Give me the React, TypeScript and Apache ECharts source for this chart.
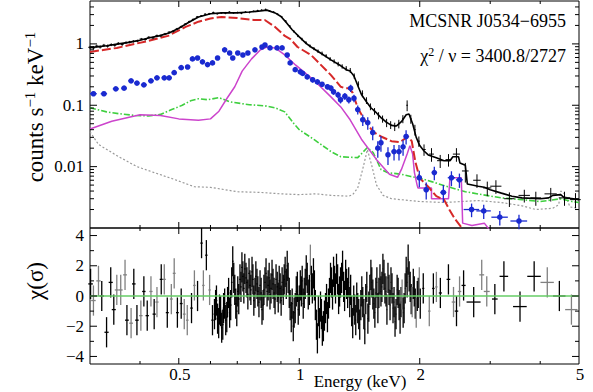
import React, { useEffect, useRef } from 'react';
import * as echarts from 'echarts';

const FONT = "'Liberation Serif', 'Times New Roman', serif";
const FAMILY = 'Liberation Serif';

// ---- model curves: [energy keV, counts s^-1 keV^-1]
const totalModel: number[][] = [
  [0.3, 0.87], [0.33, 0.93], [0.354, 1.0], [0.375, 1.06], [0.4, 1.15], [0.42, 1.25], [0.446, 1.35],
  [0.473, 1.5], [0.5, 1.8], [0.53, 2.25], [0.56, 2.75], [0.6, 3.1], [0.64, 3.2], [0.7, 3.2], [0.75, 3.3],
  [0.8, 3.45], [0.83, 3.55], [0.87, 3.2], [0.9, 2.8], [0.93, 2.2], [0.96, 1.7], [1.0, 1.3], [1.04, 1.02],
  [1.07, 0.89], [1.13, 0.71], [1.2, 0.55], [1.27, 0.44], [1.31, 0.38], [1.34, 0.36], [1.37, 0.3],
  [1.4, 0.21], [1.43, 0.15], [1.47, 0.115], [1.51, 0.091], [1.56, 0.075], [1.6, 0.063], [1.65, 0.053],
  [1.7, 0.047], [1.75, 0.046], [1.8, 0.054], [1.85, 0.07], [1.88, 0.072], [1.92, 0.05], [1.96, 0.03],
  [2.0, 0.022], [2.05, 0.018], [2.1, 0.0155], [2.2, 0.014], [2.3, 0.0125], [2.38, 0.0125], [2.42, 0.0145],
  [2.5, 0.0145], [2.52, 0.0115], [2.6, 0.0105], [2.63, 0.0052], [2.8, 0.0048], [2.9, 0.0046],
  [3.0, 0.0042], [3.2, 0.0037], [3.4, 0.0033], [3.6, 0.0031], [4.0, 0.003], [4.2, 0.0031],
  [4.3, 0.0034], [4.5, 0.0035], [4.6, 0.0031], [4.85, 0.003], [5.0, 0.0029],
];

const redModel: number[][] = [
  [0.3, 0.74], [0.35, 0.86], [0.42, 1.12], [0.47, 1.35], [0.52, 1.89], [0.56, 2.3], [0.6, 2.6],
  [0.64, 2.75], [0.7, 2.64], [0.77, 2.45], [0.82, 2.45], [0.87, 1.89], [0.92, 1.35], [0.95, 1.2],
  [0.99, 0.89], [1.07, 0.66], [1.2, 0.31], [1.27, 0.2], [1.3, 0.19], [1.33, 0.19], [1.36, 0.16],
  [1.4, 0.09], [1.47, 0.052], [1.53, 0.037], [1.6, 0.031], [1.7, 0.026], [1.78, 0.025], [1.83, 0.028],
  [1.87, 0.031], [1.91, 0.026], [1.95, 0.012], [2.0, 0.0065], [2.1, 0.0047], [2.2, 0.0033],
  [2.3, 0.0029], [2.37, 0.002], [2.45, 0.0014], [2.55, 0.001], [2.6, 0.0008],
];

const magentaModel: number[][] = [
  [0.3, 0.041], [0.34, 0.055], [0.4, 0.07], [0.45, 0.068], [0.5, 0.06], [0.56, 0.057], [0.6, 0.06],
  [0.63, 0.08], [0.66, 0.13], [0.69, 0.2], [0.72, 0.36], [0.76, 0.57], [0.8, 0.8], [0.83, 0.89],
  [0.87, 0.86], [0.92, 0.66], [0.98, 0.45], [1.085, 0.26], [1.2, 0.137], [1.27, 0.094], [1.34, 0.058],
  [1.43, 0.028], [1.56, 0.013], [1.68, 0.0075], [1.76, 0.0067], [1.8, 0.009], [1.86, 0.016],
  [1.89, 0.022], [1.92, 0.016], [1.94, 0.008], [1.97, 0.005], [1.98, 0.0045], [2.14, 0.0045],
  [2.14, 0.003], [2.36, 0.003], [2.38, 0.0066], [2.54, 0.0066], [2.56, 0.0012], [2.7, 0.0011],
  [2.9, 0.0012], [3.0, 0.0009],
];

const greenModel: number[][] = [
  [0.3, 0.091], [0.33, 0.078], [0.354, 0.073], [0.39, 0.068], [0.42, 0.067], [0.45, 0.071],
  [0.48, 0.085], [0.51, 0.1], [0.535, 0.118], [0.56, 0.128], [0.59, 0.123], [0.63, 0.133],
  [0.67, 0.114], [0.75, 0.102], [0.82, 0.098], [0.87, 0.091], [0.92, 0.078], [0.97, 0.05],
  [1.0, 0.04], [1.09, 0.0275], [1.2, 0.0176], [1.27, 0.0145], [1.4, 0.014], [1.44, 0.017],
  [1.48, 0.0205], [1.53, 0.017], [1.6, 0.009], [1.66, 0.008], [1.8, 0.0075], [1.9, 0.0069],
  [2.0, 0.0065], [2.14, 0.0057], [2.35, 0.0047], [2.6, 0.0039], [2.86, 0.0035], [3.2, 0.0031],
  [3.6, 0.0029], [4.0, 0.0027], [4.5, 0.003], [4.8, 0.0027], [5.0, 0.0026],
];

const greyModel: number[][] = [
  [0.3, 0.037], [0.315, 0.023], [0.354, 0.0145], [0.393, 0.01], [0.434, 0.008], [0.487, 0.0062],
  [0.547, 0.0047], [0.6, 0.0046], [0.7, 0.0039], [0.8, 0.0038], [0.9, 0.0036], [1.0, 0.0035],
  [1.1, 0.0036], [1.2, 0.0034], [1.33, 0.0033], [1.36, 0.0035], [1.4, 0.0045], [1.44, 0.009],
  [1.48, 0.019], [1.52, 0.01], [1.56, 0.005], [1.62, 0.0034], [1.7, 0.003], [2.0, 0.0027],
  [2.3, 0.0026], [2.8, 0.0028], [3.2, 0.0026], [3.6, 0.0023], [3.9, 0.002], [4.3, 0.0021],
  [4.45, 0.0024], [4.5, 0.004], [4.6, 0.0036], [4.75, 0.0022], [5.0, 0.0021],
];

// ---- data: [energy, value, half bin width, error]
const blackData: number[][] = [
  [0.3, 0.88, 0.003, 0.05], [0.306, 0.86, 0.003, 0.05], [0.312, 0.92, 0.003, 0.05], [0.318, 0.89, 0.003, 0.05],
  [0.325, 0.95, 0.003, 0.05], [0.332, 0.92, 0.003, 0.05], [0.339, 0.97, 0.003, 0.05], [0.346, 0.95, 0.003, 0.05],
  [0.353, 1.02, 0.003, 0.05], [0.361, 0.98, 0.003, 0.05], [0.369, 1.05, 0.003, 0.05], [0.377, 1.07, 0.004, 0.05],
  [0.385, 1.1, 0.004, 0.05], [0.394, 1.12, 0.004, 0.05], [0.403, 1.2, 0.004, 0.05], [0.412, 1.18, 0.004, 0.05],
  [0.421, 1.28, 0.004, 0.06], [0.431, 1.25, 0.004, 0.06], [0.441, 1.36, 0.004, 0.06], [0.451, 1.35, 0.004, 0.06],
  [0.462, 1.45, 0.004, 0.06], [0.473, 1.55, 0.004, 0.06], [0.484, 1.6, 0.004, 0.07], [0.495, 1.75, 0.004, 0.07],
  [0.507, 1.9, 0.004, 0.08], [0.519, 2.1, 0.004, 0.08], [0.531, 2.3, 0.004, 0.09], [0.543, 2.5, 0.004, 0.1],
  [0.556, 2.75, 0.004, 0.1], [0.569, 2.85, 0.004, 0.1], [0.582, 3.05, 0.004, 0.1], [0.596, 3.1, 0.004, 0.1],
  [0.61, 3.25, 0.004, 0.1], [0.624, 3.1, 0.004, 0.1], [0.639, 3.2, 0.004, 0.1], [0.654, 3.15, 0.004, 0.1],
  [0.669, 3.3, 0.004, 0.1], [0.685, 3.2, 0.004, 0.1], [0.701, 3.25, 0.004, 0.1], [0.717, 3.15, 0.004, 0.1],
  [0.734, 3.3, 0.004, 0.1], [0.751, 3.25, 0.004, 0.1], [0.769, 3.4, 0.004, 0.1], [0.787, 3.5, 0.004, 0.1],
  [0.805, 3.55, 0.004, 0.1], [0.824, 3.65, 0.004, 0.1], [0.843, 3.45, 0.004, 0.1], [0.863, 3.3, 0.004, 0.1],
  [0.883, 3.05, 0.004, 0.1], [0.904, 2.75, 0.004, 0.1], [0.925, 2.35, 0.004, 0.1], [0.947, 1.95, 0.004, 0.08],
  [0.969, 1.6, 0.004, 0.07], [0.992, 1.35, 0.004, 0.06], [1.015, 1.2, 0.005, 0.06], [1.039, 1.05, 0.005, 0.06],
  [1.063, 0.93, 0.005, 0.05], [1.088, 0.84, 0.005, 0.05], [1.114, 0.76, 0.005, 0.05], [1.14, 0.7, 0.005, 0.05],
  [1.167, 0.64, 0.005, 0.04], [1.194, 0.57, 0.005, 0.04], [1.222, 0.52, 0.005, 0.04], [1.251, 0.47, 0.005, 0.04],
  [1.28, 0.43, 0.005, 0.035], [1.31, 0.4, 0.005, 0.035], [1.341, 0.37, 0.006, 0.035], [1.372, 0.3, 0.006, 0.03],
  [1.405, 0.22, 0.006, 0.025], [1.438, 0.155, 0.006, 0.02], [1.472, 0.12, 0.006, 0.015], [1.506, 0.095, 0.007, 0.012],
  [1.542, 0.08, 0.007, 0.01], [1.578, 0.068, 0.007, 0.009], [1.615, 0.06, 0.007, 0.008], [1.653, 0.052, 0.008, 0.008],
  [1.692, 0.048, 0.008, 0.007], [1.732, 0.045, 0.008, 0.007], [1.773, 0.05, 0.008, 0.008], [1.815, 0.06, 0.009, 0.009],
  [1.86, 0.1, 0.009, 0.02], [1.9, 0.06, 0.01, 0.01], [1.945, 0.04, 0.01, 0.008], [1.99, 0.026, 0.012, 0.005],
  [2.05, 0.019, 0.02, 0.004], [2.14, 0.016, 0.03, 0.004], [2.25, 0.0125, 0.04, 0.003], [2.36, 0.013, 0.04, 0.003],
  [2.47, 0.016, 0.05, 0.004], [2.6, 0.0085, 0.05, 0.003], [2.78, 0.006, 0.06, 0.0015], [2.95, 0.0045, 0.07, 0.0012],
  [3.1, 0.0048, 0.1, 0.0012], [3.35, 0.003, 0.1, 0.0008], [3.65, 0.0034, 0.12, 0.0008], [3.9, 0.0031, 0.12, 0.0008],
  [4.25, 0.0036, 0.15, 0.0009], [4.6, 0.0031, 0.15, 0.0008], [4.9, 0.0029, 0.15, 0.0008],
];

const blueData: number[][] = [
  [0.306, 0.154, 0.006, 0.01], [0.325, 0.154, 0.006, 0.01], [0.348, 0.185, 0.006, 0.012], [0.365, 0.19, 0.006, 0.012],
  [0.38, 0.25, 0.006, 0.015], [0.393, 0.23, 0.006, 0.014], [0.409, 0.215, 0.007, 0.014], [0.426, 0.25, 0.007, 0.015],
  [0.441, 0.28, 0.007, 0.017], [0.46, 0.28, 0.007, 0.017], [0.473, 0.28, 0.007, 0.017], [0.487, 0.34, 0.007, 0.02],
  [0.507, 0.41, 0.008, 0.022], [0.526, 0.42, 0.008, 0.022], [0.541, 0.57, 0.008, 0.03], [0.557, 0.59, 0.008, 0.03],
  [0.573, 0.51, 0.008, 0.03], [0.59, 0.46, 0.008, 0.028], [0.607, 0.49, 0.008, 0.03], [0.625, 0.59, 0.008, 0.035],
  [0.651, 0.8, 0.008, 0.04], [0.67, 0.71, 0.008, 0.04], [0.682, 0.59, 0.008, 0.035], [0.702, 0.71, 0.008, 0.04],
  [0.723, 0.66, 0.008, 0.04], [0.744, 0.71, 0.008, 0.04], [0.775, 0.8, 0.008, 0.045], [0.807, 0.89, 0.008, 0.05],
  [0.821, 0.96, 0.008, 0.05], [0.845, 0.86, 0.008, 0.05], [0.88, 0.86, 0.008, 0.05], [0.906, 0.86, 0.008, 0.05],
  [0.933, 0.66, 0.008, 0.04], [0.949, 0.49, 0.008, 0.035], [0.977, 0.38, 0.008, 0.03], [1.006, 0.35, 0.008, 0.03],
  [1.02, 0.33, 0.008, 0.03], [1.047, 0.29, 0.008, 0.025], [1.08, 0.26, 0.008, 0.025], [1.11, 0.24, 0.008, 0.022],
  [1.14, 0.22, 0.008, 0.02], [1.176, 0.2, 0.008, 0.02], [1.2, 0.19, 0.008, 0.02], [1.218, 0.166, 0.008, 0.018],
  [1.25, 0.148, 0.008, 0.018], [1.268, 0.123, 0.008, 0.016], [1.3, 0.14, 0.008, 0.018], [1.33, 0.123, 0.008, 0.016],
  [1.344, 0.19, 0.008, 0.025], [1.37, 0.13, 0.008, 0.018], [1.4, 0.085, 0.01, 0.014], [1.441, 0.058, 0.01, 0.012],
  [1.483, 0.052, 0.01, 0.012], [1.526, 0.036, 0.01, 0.009], [1.571, 0.02, 0.01, 0.006], [1.6, 0.0245, 0.01, 0.007],
  [1.666, 0.0156, 0.012, 0.005], [1.725, 0.0176, 0.012, 0.005], [1.775, 0.0176, 0.012, 0.005], [1.817, 0.021, 0.012, 0.006],
  [1.849, 0.031, 0.012, 0.008], [1.995, 0.0066, 0.03, 0.002], [2.076, 0.0042, 0.03, 0.0013], [2.175, 0.008, 0.03, 0.002],
  [2.291, 0.0038, 0.04, 0.0012], [2.4, 0.0066, 0.05, 0.0018], [2.513, 0.0061, 0.05, 0.0016], [2.695, 0.002, 0.12, 0.0005],
  [2.89, 0.0019, 0.12, 0.0005], [3.17, 0.0015, 0.15, 0.0004], [3.54, 0.0013, 0.17, 0.00035],
];

// ---- residuals: [energy, chi, half bin width, grey flag]
const residuals: number[][] = [
  [0.301, 0.8, 0.004, 0], [0.306, -0.3, 0.004, 1], [0.315, 1.0, 0.004, 1], [0.321, 0.0, 0.004, 0], [0.33, -2.4, 0.004, 0],
  [0.338, 0.9, 0.004, 0], [0.344, -0.9, 0.004, 0], [0.35, 0.4, 0.004, 1], [0.358, 0.4, 0.004, 1], [0.367, 1.4, 0.004, 1],
  [0.371, -1.6, 0.004, 0], [0.38, -1.8, 0.004, 1], [0.386, 0.8, 0.004, 0], [0.393, -1.6, 0.004, 0], [0.402, -1.3, 0.004, 1],
  [0.409, 0.3, 0.004, 0], [0.417, -1.3, 0.004, 0], [0.426, 0.3, 0.004, 1], [0.434, -1.2, 0.004, 0], [0.441, -0.4, 0.004, 1],
  [0.452, 1.1, 0.004, 0], [0.46, 1.1, 0.004, 1], [0.468, -1.1, 0.004, 0], [0.479, -0.2, 0.004, 1], [0.487, 1.5, 0.004, 1],
  [0.496, -1.1, 0.004, 0], [0.507, -0.5, 0.004, 0], [0.516, -1.2, 0.004, 1], [0.525, -1.6, 0.004, 1], [0.538, -0.8, 0.004, 0],
  [0.547, 0.7, 0.004, 1], [0.557, 0.0, 0.004, 0], [0.57, 3.5, 0.004, 0], [0.576, 0.7, 0.004, 1], [0.586, 2.7, 0.004, 0],
  [0.597, 0.4, 0.004, 1], [0.607, -1.6, 0.004, 0],
  [0.614, -1.2, 0.003, 0], [0.618, -0.6, 0.003, 0], [0.621, -0.3, 0.003, 0], [0.625, -1.5, 0.003, 0], [0.629, -1.8, 0.003, 0],
  [0.632, -0.9, 0.003, 0], [0.636, -1.0, 0.003, 0], [0.64, -2.1, 0.003, 0], [0.644, -1.9, 0.003, 0], [0.647, -0.8, 0.003, 0],
  [0.651, -0.5, 0.003, 0], [0.655, -1.6, 0.003, 0], [0.659, -1.4, 0.003, 0], [0.662, -0.4, 0.003, 0], [0.666, 0.2, 0.003, 0],
  [0.67, -1.1, 0.003, 0], [0.674, -0.6, 0.003, 0], [0.678, 0.9, 0.003, 0], [0.682, 2.3, 0.003, 0], [0.686, 1.2, 0.003, 0],
  [0.69, 0.4, 0.003, 0], [0.694, -0.5, 0.003, 0], [0.698, -1.0, 0.003, 0], [0.702, 0.3, 0.003, 0], [0.706, -0.2, 0.003, 0],
  [0.711, 1.1, 0.003, 0], [0.715, 0.6, 0.003, 0], [0.719, 1.9, 0.003, 0], [0.723, 1.3, 0.003, 0], [0.727, 0.5, 0.003, 0],
  [0.731, 1.8, 0.003, 0], [0.736, 1.2, 0.003, 0], [0.74, 0.9, 0.003, 0], [0.744, 0.1, 0.003, 0], [0.749, 1.5, 0.003, 0],
  [0.753, 0.7, 0.003, 0], [0.757, 0.4, 0.003, 0], [0.762, 1.6, 0.003, 0], [0.766, 1.1, 0.003, 0], [0.77, -0.3, 0.003, 0],
  [0.775, 0.2, 0.003, 0], [0.779, 1.3, 0.003, 0], [0.784, 0.8, 0.003, 0], [0.788, 0.3, 0.003, 0], [0.793, -0.4, 0.003, 0],
  [0.798, 0.7, 0.003, 0], [0.803, 0.2, 0.003, 0], [0.807, -0.9, 0.003, 0], [0.812, -0.6, 0.003, 0], [0.816, 0.4, 0.003, 0],
  [0.821, 0.9, 0.003, 0], [0.826, 1.5, 0.003, 0], [0.831, 0.3, 0.003, 0], [0.836, 0.7, 0.003, 0], [0.841, 1.2, 0.003, 0],
  [0.845, 0.1, 0.003, 0], [0.85, 0.5, 0.003, 0], [0.855, 1.4, 0.003, 0], [0.86, 0.8, 0.003, 0], [0.865, 0.2, 0.003, 0],
  [0.87, -0.2, 0.003, 0], [0.875, 1.1, 0.003, 0], [0.881, 0.6, 0.003, 0], [0.886, -0.1, 0.003, 0], [0.891, 1.0, 0.003, 0],
  [0.896, 0.5, 0.003, 0], [0.901, -0.3, 0.003, 0], [0.906, 0.9, 0.003, 0], [0.912, 0.4, 0.003, 0], [0.917, 1.1, 0.003, 0],
  [0.922, 1.6, 0.003, 0], [0.928, 0.8, 0.003, 0], [0.933, 2.0, 0.003, 0], [0.938, 1.2, 0.003, 0], [0.944, 0.2, 0.003, 0],
  [0.949, -0.6, 0.003, 0], [0.955, -1.4, 0.003, 0], [0.96, -0.5, 0.003, 0], [0.966, -2.0, 0.003, 0], [0.971, -1.1, 0.003, 0],
  [0.977, -0.8, 0.003, 0], [0.983, 0.3, 0.003, 0], [0.989, 0.6, 0.003, 0], [0.994, -0.9, 0.003, 0], [1.0, -0.3, 0.003, 0],
  [1.006, 0.7, 0.003, 0], [1.012, 0.3, 0.003, 0], [1.017, 1.0, 0.003, 0], [1.023, -0.5, 0.003, 0], [1.029, 0.2, 0.003, 0],
  [1.035, 0.8, 0.003, 0], [1.041, 1.7, 0.003, 0], [1.047, 1.2, 0.003, 0], [1.053, 0.1, 0.003, 0], [1.06, 0.4, 0.003, 0],
  [1.066, 2.4, 0.003, 1], [1.072, 1.0, 0.003, 0], [1.078, 0.5, 0.003, 0], [1.085, 1.5, 0.003, 0], [1.091, 0.7, 0.003, 0],
  [1.097, -0.6, 0.003, 0], [1.104, -1.9, 0.003, 0], [1.11, -2.8, 0.003, 0], [1.116, -1.0, 0.003, 0], [1.123, -1.8, 0.003, 0],
  [1.13, -0.7, 0.003, 0], [1.136, -1.2, 0.003, 0], [1.142, -2.3, 0.003, 0], [1.149, -2.0, 0.003, 0], [1.156, -1.3, 0.003, 0],
  [1.163, -0.8, 0.003, 0], [1.17, -0.2, 0.003, 0], [1.176, -1.4, 0.003, 0], [1.183, -0.5, 0.003, 0], [1.19, 0.2, 0.003, 0],
  [1.197, 1.2, 0.003, 0], [1.204, 0.9, 0.003, 0], [1.211, 0.1, 0.003, 0], [1.218, 1.6, 0.003, 0], [1.225, 1.0, 0.003, 0],
  [1.232, 0.5, 0.003, 0], [1.239, 1.8, 0.003, 0], [1.247, 1.1, 0.003, 0], [1.254, -0.2, 0.003, 0], [1.261, 0.3, 0.003, 0],
  [1.268, 0.9, 0.003, 0], [1.276, 1.2, 0.003, 0], [1.283, 2.0, 0.003, 0], [1.291, 0.6, 0.003, 0], [1.298, 0.0, 0.003, 0],
  [1.306, 1.4, 0.003, 0], [1.313, 0.8, 0.003, 0], [1.321, 0.2, 0.003, 0], [1.329, 0.9, 0.003, 0], [1.337, -0.4, 0.003, 0],
  [1.344, 0.4, 0.003, 0], [1.352, -1.0, 0.003, 0], [1.36, -1.8, 0.003, 0], [1.368, -0.3, 0.003, 0], [1.376, -0.9, 0.003, 0],
  [1.384, -1.6, 0.003, 0], [1.392, -0.1, 0.003, 0], [1.4, -0.8, 0.003, 0], [1.408, -1.2, 0.003, 0], [1.416, -1.9, 0.003, 0],
  [1.425, -0.6, 0.003, 0], [1.433, 0.3, 0.003, 0], [1.441, -0.4, 0.003, 0], [1.45, -1.2, 0.003, 0], [1.458, -2.2, 0.003, 0],
  [1.466, -0.2, 0.003, 0], [1.475, 0.6, 0.003, 0], [1.484, -1.5, 0.003, 0], [1.492, -0.7, 0.003, 0], [1.501, 0.4, 0.003, 0],
  [1.51, 1.4, 0.003, 0], [1.518, 0.9, 0.003, 0], [1.527, 0.1, 0.003, 0], [1.536, -0.5, 0.003, 0], [1.545, -1.1, 0.003, 0],
  [1.554, 0.2, 0.003, 0], [1.563, 0.9, 0.003, 0], [1.572, -0.8, 0.003, 0], [1.581, 0.2, 0.003, 0], [1.591, 1.1, 0.003, 0],
  [1.6, 0.3, 0.003, 0], [1.609, 0.6, 0.003, 0], [1.618, 1.8, 0.003, 0], [1.628, 1.4, 0.003, 0], [1.637, 0.5, 0.003, 0],
  [1.647, 0.3, 0.003, 0], [1.656, -0.9, 0.003, 0], [1.666, 1.2, 0.003, 0], [1.676, 0.4, 0.003, 0], [1.686, -0.6, 0.003, 0],
  [1.695, 0.9, 0.003, 0], [1.705, 0.5, 0.003, 0], [1.715, -0.8, 0.003, 0], [1.725, -0.4, 0.003, 0], [1.735, -1.7, 0.003, 0],
  [1.745, -1.2, 0.003, 0], [1.756, 0.4, 0.003, 0], [1.766, 0.2, 0.003, 0], [1.776, -0.6, 0.003, 0], [1.786, -1.5, 0.003, 0],
  [1.796, -0.4, 0.003, 0], [1.807, 0.1, 0.003, 1], [1.818, -1.1, 0.003, 0], [1.828, -0.8, 0.003, 0], [1.839, 0.5, 0.003, 0],
  [1.85, 1.6, 0.003, 0], [1.86, 0.9, 0.003, 0], [1.871, 2.4, 0.003, 0], [1.882, 1.3, 0.003, 0], [1.893, 0.6, 0.003, 0],
  [1.904, -0.2, 0.003, 0], [1.915, -0.4, 0.003, 1], [1.927, 0.8, 0.003, 0], [1.938, 0.3, 0.003, 0], [1.949, -0.5, 0.003, 0],
  [1.96, -1.1, 0.003, 1], [1.972, 0.0, 0.003, 0], [1.983, 0.2, 0.003, 0], [1.995, 0.9, 0.003, 1], [2.006, -0.5, 0.003, 0],
  [2.041, 0.5, 0.012, 0], [2.113, -1.0, 0.015, 1], [2.163, 0.5, 0.015, 0], [2.201, 0.6, 0.015, 1], [2.252, 0.2, 0.02, 0],
  [2.359, 1.1, 0.025, 0], [2.429, -0.4, 0.025, 1], [2.471, -1.0, 0.025, 0], [2.515, 0.3, 0.025, 1], [2.574, 0.7, 0.03, 0],
  [2.728, -0.4, 0.11, 0], [2.857, 1.4, 0.04, 1], [2.941, 0.3, 0.05, 1], [3.081, -0.2, 0.05, 0], [3.246, 1.3, 0.08, 0],
  [3.561, -0.7, 0.14, 0], [3.863, 1.3, 0.15, 0], [4.166, 0.9, 0.16, 1], [4.466, 0.0, 0.16, 0], [4.787, -0.9, 0.17, 1],
];
const residZero: number[][] = [[0.3, 0], [5, 0]];

// ---- axes / ticks
const xRange = [0.3, 5];
const yTopRange = [0.001, 5];
const yBotRange = [-4.5, 4.5];
const xMajorTicks = [0.5, 1, 2];
const xMinorTicks = [0.4, 0.6, 0.7, 0.8, 0.9, 3, 4];
const xTickLabels = [0.5, 1, 2, 5];
const yTopMajorTicks = [0.01, 0.1, 1];
const yTopMinorTicks = [0.002, 0.003, 0.004, 0.005, 0.006, 0.007, 0.008, 0.009, 0.02, 0.03, 0.04, 0.05, 0.06, 0.07,
  0.08, 0.09, 0.2, 0.3, 0.4, 0.5, 0.6, 0.7, 0.8, 0.9, 2, 3, 4];
const yTopLabels = [0.01, 0.1, 1];
const yBotMajorTicks = [-4, -2, 0, 2, 4];
const yBotMinorTicks = [-3, -1, 1, 3];
const yBotLabels = [-4, -2, 0, 2, 4];

const ln = (x1: number, y1: number, x2: number, y2: number, stroke = '#000', lw = 1) => ({
  type: 'line', shape: { x1, y1, x2, y2 }, style: { stroke, lineWidth: lw },
});

function tickSeries(gi: number, xRef: number, yRef: number, yMaj: number[], yMin: number[], xLabels: boolean) {
  return {
    type: 'custom', xAxisIndex: gi, yAxisIndex: gi, silent: true, z: 20,
    data: [[xRef, yRef]],
    renderItem: (params: any, api: any) => {
      const cs = params.coordSys;
      const L = cs.x, R = cs.x + cs.width, T = cs.y, B = cs.y + cs.height;
      const ch: any[] = [];
      const addX = (E: number, len: number) => {
        const px = api.coord([E, yRef])[0];
        ch.push(ln(px, T, px, T + len), ln(px, B, px, B - len));
      };
      const addY = (v: number, len: number) => {
        const py = api.coord([xRef, v])[1];
        ch.push(ln(L, py, L + len, py), ln(R, py, R - len, py));
      };
      xMajorTicks.forEach((e) => addX(e, 6));
      xMinorTicks.forEach((e) => addX(e, 3));
      yMaj.forEach((v) => addY(v, 7));
      yMin.forEach((v) => addY(v, 4));
      if (xLabels) {
        xTickLabels.forEach((e) => {
          const px = api.coord([e, yRef])[0];
          ch.push({
            type: 'text', x: px + 1, y: B + 10,
            style: { text: String(e), textAlign: 'center', textVerticalAlign: 'middle', font: `17px ${FONT}`, fill: '#000' },
          });
        });
      }
      return { type: 'group', children: ch };
    },
  };
}

function errSeries(gi: number, data: number[][], color: string, dot: boolean, z: number, lw = 1) {
  return {
    type: 'custom', xAxisIndex: gi, yAxisIndex: gi, silent: true, z,
    data,
    encode: { x: 0, y: 1 },
    renderItem: (_p: any, api: any) => {
      const E = api.value(0), v = api.value(1), dE = api.value(2), dv = api.value(3);
      const c = api.coord([E, v]);
      const xl = api.coord([E - dE, v])[0], xr = api.coord([E + dE, v])[0];
      const yl = api.coord([E, v - dv])[1], yh = api.coord([E, v + dv])[1];
      const ch: any[] = [ln(xl, c[1], xr, c[1], color, lw), ln(c[0], yl, c[0], yh, color, lw)];
      if (dot) ch.push({ type: 'circle', shape: { cx: c[0], cy: c[1], r: 2.8 }, style: { fill: color } });
      return { type: 'group', children: ch };
    },
  };
}

function residSeries() {
  return {
    type: 'custom', xAxisIndex: 1, yAxisIndex: 1, silent: true, z: 5,
    data: residuals,
    encode: { x: 0, y: 1 },
    renderItem: (_p: any, api: any) => {
      const E = api.value(0), r = api.value(1), dE = api.value(2), g = api.value(3);
      const color = g ? '#808080' : '#000';
      const c = api.coord([E, r]);
      const xl = api.coord([E - dE, r])[0], xr = api.coord([E + dE, r])[0];
      const yl = api.coord([E, r - 1])[1], yh = api.coord([E, r + 1])[1];
      return { type: 'group', children: [ln(xl, c[1], xr, c[1], color, 1.3), ln(c[0], yl, c[0], yh, color, 1.3)] };
    },
  };
}

const lineS = (data: number[][], color: string, type: any, width: number, z: number, gi = 0) => ({
  type: 'line', xAxisIndex: gi, yAxisIndex: gi, data, showSymbol: false, symbol: 'none', silent: true, z,
  lineStyle: { color, type, width }, clip: true,
});

const axisCommon = { axisLine: { show: false }, axisTick: { show: false }, splitLine: { show: false } };

function buildOption() {
  return {
    animation: false,
    backgroundColor: '#fff',
    textStyle: { fontFamily: FAMILY },
    grid: [
      { left: 90, top: 1, width: 489, height: 227, show: true, borderColor: '#000', borderWidth: 1, backgroundColor: 'transparent' },
      { left: 90, top: 228, width: 489, height: 136, show: true, borderColor: '#000', borderWidth: 1, backgroundColor: 'transparent' },
    ],
    xAxis: [
      { type: 'log', gridIndex: 0, min: xRange[0], max: xRange[1], axisLabel: { show: false }, ...axisCommon },
      { type: 'log', gridIndex: 1, min: xRange[0], max: xRange[1], axisLabel: { show: false }, ...axisCommon },
    ],
    yAxis: [
      {
        type: 'log', gridIndex: 0, min: yTopRange[0], max: yTopRange[1], ...axisCommon,
        axisLabel: {
          color: '#000', fontFamily: FAMILY, fontSize: 17, margin: 6,
          formatter: (v: number) => {
            const m = yTopLabels.find((t) => Math.abs(v - t) / t < 1e-6);
            return m === undefined ? '' : String(m);
          },
        },
      },
      {
        type: 'value', gridIndex: 1, min: yBotRange[0], max: yBotRange[1], ...axisCommon,
        axisLabel: {
          color: '#000', fontFamily: FAMILY, fontSize: 17, margin: 6,
          formatter: (v: number) => {
            const m = yBotLabels.find((t) => Math.abs(v - t) < 1e-6);
            if (m === undefined) return '';
            return m < 0 ? '\u2212' + String(-m) : String(m);
          },
        },
      },
    ],
    graphic: [
      {
        type: 'text', x: 35, y: 107, rotation: Math.PI / 2,
        style: {
          text: '{a|counts s}{s|\u22121}{a| keV}{s|\u22121}',
          textAlign: 'center', textVerticalAlign: 'middle',
          rich: {
            a: { font: `23px ${FONT}`, fill: '#000', lineHeight: 26 },
            s: { font: `15px ${FONT}`, fill: '#000', verticalAlign: 'top', lineHeight: 26 },
          },
        },
      },
      {
        type: 'text', x: 35, y: 281, rotation: Math.PI / 2,
        style: { text: '\u03c7(\u03c3)', textAlign: 'center', textVerticalAlign: 'middle', font: `23px ${FONT}`, fill: '#000' },
      },
      {
        type: 'text', x: 360, y: 381,
        style: { text: 'Energy (keV)', textAlign: 'center', textVerticalAlign: 'middle', font: `17px ${FONT}`, fill: '#000' },
      },
      {
        type: 'text', x: 566, y: 21,
        style: { text: 'MCSNR J0534\u22126955', textAlign: 'right', textVerticalAlign: 'middle', font: `18px ${FONT}`, fill: '#000' },
      },
      {
        type: 'text', x: 566, y: 56,
        style: {
          text: '{a|\u03c7}{s|2}{a| / \u03bd = 3400.8/2727}',
          textAlign: 'right', textVerticalAlign: 'middle',
          rich: {
            a: { font: `18px ${FONT}`, fill: '#000', lineHeight: 20 },
            s: { font: `12px ${FONT}`, fill: '#000', verticalAlign: 'top', lineHeight: 20 },
          },
        },
      },
    ],
    series: [
      lineS(greyModel, '#9a9a9a', [2, 2], 1.2, 2),
      lineS(greenModel, '#3fcf3f', [6, 2, 1.5, 2], 1.6, 2),
      lineS(magentaModel, '#cc44cc', 'solid', 1.5, 2),
      lineS(redModel, '#d62828', [9, 3], 2, 3),
      errSeries(0, blueData, '#1a2ad0', true, 4, 1.3),
      errSeries(0, blackData, '#000', false, 5, 1),
      lineS(totalModel, '#000', 'solid', 1.6, 6),
      lineS(residZero, '#66cc66', 'solid', 1.5, 6, 1),
      residSeries(),
      tickSeries(0, 1, 1, yTopMajorTicks, yTopMinorTicks, false),
      tickSeries(1, 1, 0, yBotMajorTicks, yBotMinorTicks, true),
    ],
  };
}

export default function App() {
  const ref = useRef<HTMLDivElement>(null);
  useEffect(() => {
    const chart = echarts.init(ref.current as HTMLDivElement, null, { renderer: 'svg' });
    chart.setOption(buildOption() as any);
    return () => chart.dispose();
  }, []);
  return <div ref={ref} style={{ position: 'absolute', left: 0, top: 0, width: 593, height: 392, background: '#fff' }} />;
}
